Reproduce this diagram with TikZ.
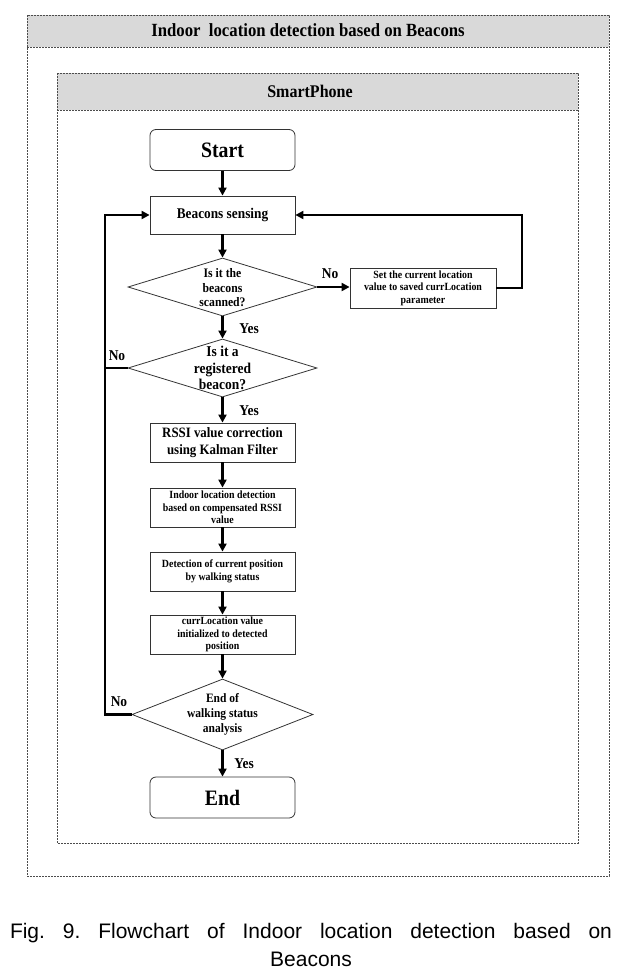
\documentclass[tikz,border=0pt]{standalone}
\usepackage{fontspec}
\setmainfont{Liberation Serif}
\newfontfamily\capfont{Liberation Sans}
\newfontfamily\cond[FakeStretch=0.9]{Liberation Serif}
\usetikzlibrary{shapes.geometric,arrows.meta}
\begin{document}
\frenchspacing
\begin{tikzpicture}[x=1pt,y=-1pt,
  container/.style={draw=black!70, dash pattern=on 2pt off 1pt, line width=0.8pt},
  band/.style={fill=black!15},
  proc/.style={draw=black!80, line width=0.8pt, minimum width=145pt, minimum height=39pt, inner sep=1pt, align=center, font=\cond\bfseries\fontsize{11}{12.5}\selectfont},
  term/.style={proc, rounded corners=6pt, minimum height=41pt, font=\cond\bfseries\fontsize{22}{24}\selectfont},
  dec/.style={diamond, draw=black!80, line width=0.8pt, minimum width=189pt, minimum height=58pt, inner sep=0pt},
  dectext/.style={align=center, inner sep=0pt, font=\cond\bfseries\fontsize{13}{14.5}\selectfont},
  flow/.style={line width=2.1pt, -{Triangle[length=8pt,width=8pt]}},
  plain/.style={line width=2.1pt},
  lbl/.style={font=\cond\bfseries\fontsize{15}{16}\selectfont, inner sep=0pt}
]
\useasboundingbox (0,0) rectangle (631,977);
% outer container
\fill[band] (27,15) rectangle (609,47);
\draw[container] (27,15) rectangle (609,876);
\draw[container] (27,47) -- (609,47);
\node[font=\cond\bfseries\fontsize{18.6}{20}\selectfont] (titleA) at (308,30) {Indoor\ \ location detection based on Beacons};
% inner container
\fill[band] (57,73) rectangle (578,110);
\draw[container] (57,73) rectangle (578,843);
\draw[container] (57,110) -- (578,110);
\node[font=\cond\bfseries\fontsize{17.8}{19}\selectfont] (titleB) at (310,91) {SmartPhone};
% nodes
\node[term] (start) at (222.5,150) {Start};
\node[proc, minimum height=38pt, font=\cond\bfseries\fontsize{14.8}{16}\selectfont] (sense) at (222.5,215) {Beacons sensing};
\node[dec] (d1) at (222.5,287) {};
\node[dectext] (d1t) at (222.5,288) {Is it the\\beacons\\scanned?};
\node[proc, minimum width=146pt, minimum height=40pt, font=\cond\bfseries\fontsize{11}{12.5}\selectfont] (setbox) at (423,288) {Set the current location\\value to saved currLocation\\parameter};
\node[dec] (d2) at (222.5,368) {};
\node[dectext, font=\cond\bfseries\fontsize{15}{16.5}\selectfont] (d2t) at (222.5,368) {Is it a\\registered\\beacon?};
\node[proc, font=\cond\bfseries\fontsize{14.3}{16.5}\selectfont] (rssi) at (222.5,442.5) {RSSI value correction\\using Kalman Filter};
\node[proc] (ild) at (222.5,507.5) {Indoor location detection\\based on compensated RSSI\\value};
\node[proc] (det) at (222.5,571.5) {Detection of current position\\by walking status};
\node[proc] (curr) at (222.5,634.5) {currLocation value\\initialized to detected\\position};
\node[dec, minimum width=181pt, minimum height=71pt] (d3) at (222.5,714.5) {};
\node[dectext, font=\cond\bfseries\fontsize{12.8}{15}\selectfont] (d3t) at (222.5,714.5) {End of\\walking status\\analysis};
\node[term] (end) at (222.5,797.5) {End};
% loop coordinates
\coordinate (rloop) at (522,215);
\coordinate (lloop) at (105,215);
% connectors
\draw[flow] (start) -- (sense);
\draw[flow] (sense) -- (d1);
\draw[flow] (d1.east) -- (d1.east -| setbox.west);
\draw[flow] (setbox.east) -| (rloop) -- (sense.east);
\draw[flow] (d1) -- (d2);
\draw[plain] (d2.west) -- (d2.west -| lloop);
\draw[flow] (d3.west) -| (lloop) -- (sense.west);
\draw[flow] (d2) -- (rssi);
\draw[flow] (rssi) -- (ild);
\draw[flow] (ild) -- (det);
\draw[flow] (det) -- (curr);
\draw[flow] (curr) -- (d3);
\draw[flow] (d3) -- (end);
% labels
\node[lbl] (n1) at (330,274) {No};
\node[lbl] (y1) at (249,329) {Yes};
\node[lbl] (n2) at (117,356) {No};
\node[lbl] (y2) at (249,411) {Yes};
\node[lbl] (n3) at (119,702) {No};
\node[lbl] (y3) at (244,764) {Yes};
% caption
\node[font=\capfont\fontsize{21}{24}\selectfont, inner sep=0pt, anchor=base] (cap1) at (311,938) {\makebox[602pt][s]{Fig. 9. Flowchart of Indoor location detection based on}};
\node[font=\capfont\fontsize{21}{24}\selectfont, inner sep=0pt, anchor=base] (cap2) at (311,966) {Beacons};
\end{tikzpicture}
\end{document}
